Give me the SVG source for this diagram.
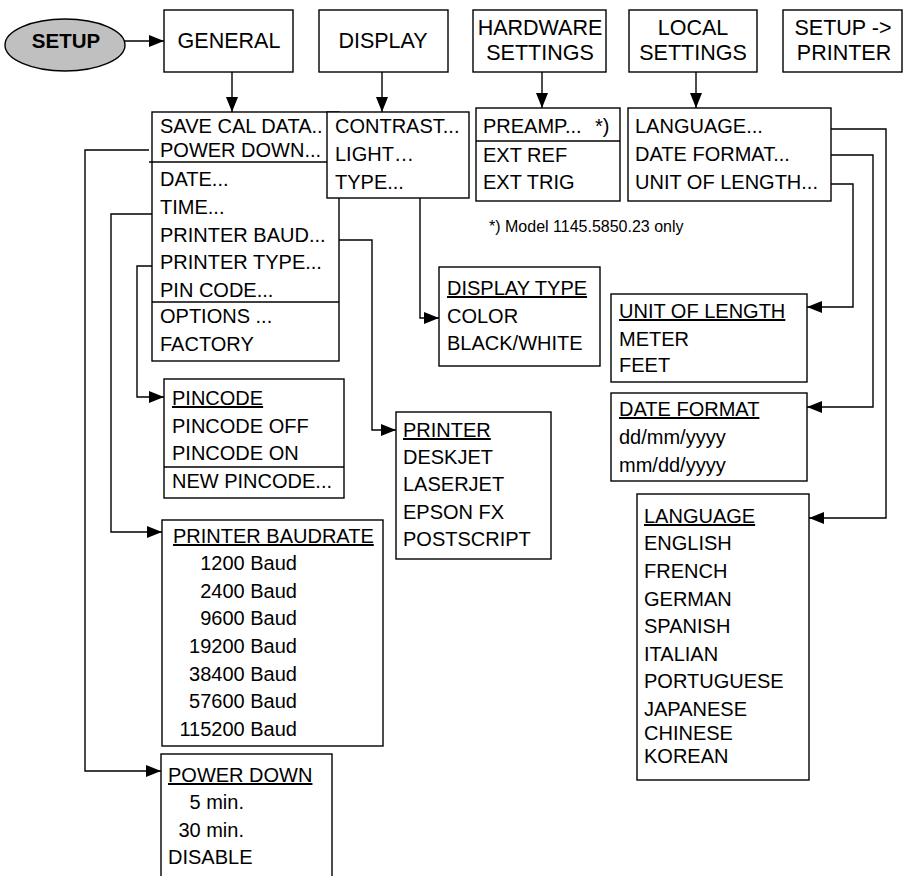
<svg xmlns="http://www.w3.org/2000/svg" width="903" height="876" viewBox="0 0 903 876">
<defs>
<marker id="ah" markerUnits="userSpaceOnUse" markerWidth="16" markerHeight="12" refX="15" refY="6" orient="auto">
<path d="M0,0 L15,6 L0,12 Z" fill="#000"/>
</marker>
<style>
text{font-family:"Liberation Sans",Arial,sans-serif;fill:#000}
.t{font-size:21.5px;text-anchor:middle}
.m{font-size:20px}
.u{text-decoration:underline}
.e{text-anchor:end}
.f{font-size:16px}
rect{fill:#fff;stroke:#000;stroke-width:1.4}
.dv{stroke:#000;stroke-width:1.4;fill:none}
.c path{fill:none;stroke:#000;stroke-width:1.4}
.a{marker-end:url(#ah)}
</style>
</defs>

<g id="connectors" class="c">
<path class="a" d="M125,41 H164"/>
<path class="a" d="M232,72 V112"/>
<path class="a" d="M382,72 V112"/>
<path class="a" d="M542,72 V108"/>
<path class="a" d="M696,72 V108"/>
<path class="a" d="M149,150 H85 V771 H161"/>
<path class="a" d="M152,214 H111 V532 H162"/>
<path class="a" d="M152,266 H137 V397 H164"/>
<path class="a" d="M339,240 H372 V430 H396"/>
<path class="a" d="M420,198 V318 H439"/>
<path class="a" d="M831,129 H886 V518 H809"/>
<path class="a" d="M831,155 H873 V407 H807"/>
<path class="a" d="M831,184 H853 V307 H807"/>
</g>

<g id="setup">
<ellipse cx="65" cy="45" rx="60" ry="26" fill="#c0c0c0" stroke="#000" stroke-width="1.4"/>
<text x="66" y="48" style="font-size:20.5px;font-weight:bold;text-anchor:middle">SETUP</text>
</g>

<g id="general">
<rect x="164" y="10" width="129" height="62"/>
<text class="t" x="229" y="48">GENERAL</text>
</g>
<g id="display">
<rect x="319" y="10" width="129" height="62"/>
<text class="t" x="383" y="48">DISPLAY</text>
</g>
<g id="hardware">
<rect x="473" y="10" width="133" height="62"/>
<text class="t" x="540" y="35">HARDWARE</text>
<text class="t" x="540" y="60">SETTINGS</text>
</g>
<g id="local">
<rect x="629" y="10" width="128" height="62"/>
<text class="t" x="693" y="35">LOCAL</text>
<text class="t" x="693" y="60">SETTINGS</text>
</g>
<g id="setup-printer">
<rect x="783" y="10" width="119" height="62"/>
<text class="t" x="843" y="35">SETUP -&gt;</text>
<text class="t" x="844" y="60">PRINTER</text>
</g>

<g id="general-menu">
<rect x="152" y="112" width="187" height="249"/>
<line class="dv" x1="149" y1="162" x2="327" y2="162"/>
<line class="dv" x1="152" y1="302" x2="339" y2="302"/>
<text class="m" x="160" y="133">SAVE CAL DATA..</text>
<text class="m" x="160" y="157">POWER DOWN...</text>
<text class="m" x="160" y="186">DATE...</text>
<text class="m" x="160" y="214">TIME...</text>
<text class="m" x="160" y="242">PRINTER BAUD...</text>
<text class="m" x="160" y="269">PRINTER TYPE...</text>
<text class="m" x="160" y="297">PIN CODE...</text>
<text class="m" x="160" y="323">OPTIONS ...</text>
<text class="m" x="160" y="351">FACTORY</text>
</g>

<g id="display-menu">
<rect x="327" y="112" width="142" height="86"/>
<text class="m" x="335" y="133">CONTRAST...</text>
<text class="m" x="335" y="161">LIGHT…</text>
<text class="m" x="335" y="189">TYPE...</text>
</g>

<g id="hardware-menu">
<rect x="476" y="108" width="144" height="93"/>
<line class="dv" x1="476" y1="141" x2="620" y2="141"/>
<text class="m" x="483" y="133">PREAMP...</text>
<text class="m" x="595" y="133">*)</text>
<text class="m" x="483" y="162">EXT REF</text>
<text class="m" x="483" y="189">EXT TRIG</text>
</g>

<g id="local-menu">
<rect x="628" y="108" width="203" height="93"/>
<text class="m" x="635" y="133">LANGUAGE...</text>
<text class="m" x="635" y="161">DATE FORMAT...</text>
<text class="m" x="635" y="189">UNIT OF LENGTH...</text>
</g>

<g id="footnote">
<text class="f" x="489" y="232">*) Model 1145.5850.23 only</text>
</g>

<g id="display-type">
<rect x="439" y="267" width="161" height="99"/>
<text class="m u" x="447" y="295">DISPLAY TYPE</text>
<text class="m" x="447" y="323">COLOR</text>
<text class="m" x="447" y="350">BLACK/WHITE</text>
</g>

<g id="unit-of-length">
<rect x="611" y="294" width="196" height="88"/>
<text class="m u" x="619" y="318">UNIT OF LENGTH</text>
<text class="m" x="619" y="346">METER</text>
<text class="m" x="619" y="372">FEET</text>
</g>

<g id="date-format">
<rect x="611" y="393" width="196" height="88"/>
<text class="m u" x="619" y="416">DATE FORMAT</text>
<text class="m" x="619" y="444">dd/mm/yyyy</text>
<text class="m" x="619" y="472">mm/dd/yyyy</text>
</g>

<g id="language">
<rect x="637" y="494" width="172" height="286"/>
<text class="m u" x="644" y="523">LANGUAGE</text>
<text class="m" x="644" y="550">ENGLISH</text>
<text class="m" x="644" y="578">FRENCH</text>
<text class="m" x="644" y="606">GERMAN</text>
<text class="m" x="644" y="633">SPANISH</text>
<text class="m" x="644" y="661">ITALIAN</text>
<text class="m" x="644" y="688">PORTUGUESE</text>
<text class="m" x="644" y="716">JAPANESE</text>
<text class="m" x="644" y="740">CHINESE</text>
<text class="m" x="644" y="763">KOREAN</text>
</g>

<g id="pincode">
<rect x="164" y="379" width="180" height="119"/>
<line class="dv" x1="164" y1="467" x2="344" y2="467"/>
<text class="m u" x="172" y="405">PINCODE</text>
<text class="m" x="172" y="433">PINCODE OFF</text>
<text class="m" x="172" y="460">PINCODE ON</text>
<text class="m" x="172" y="488">NEW PINCODE...</text>
</g>

<g id="printer">
<rect x="396" y="412" width="155" height="147"/>
<text class="m u" x="403" y="437">PRINTER</text>
<text class="m" x="403" y="464">DESKJET</text>
<text class="m" x="403" y="491">LASERJET</text>
<text class="m" x="403" y="519">EPSON FX</text>
<text class="m" x="403" y="546">POSTSCRIPT</text>
</g>

<g id="printer-baudrate">
<rect x="162" y="520" width="221" height="226"/>
<text class="m u" x="173" y="543">PRINTER BAUDRATE</text>
<text class="m e" x="297" y="570">1200 Baud</text>
<text class="m e" x="297" y="598">2400 Baud</text>
<text class="m e" x="297" y="625">9600 Baud</text>
<text class="m e" x="297" y="653">19200 Baud</text>
<text class="m e" x="297" y="681">38400 Baud</text>
<text class="m e" x="297" y="708">57600 Baud</text>
<text class="m e" x="297" y="736">115200 Baud</text>
</g>

<g id="power-down">
<rect x="161" y="754" width="171" height="130"/>
<text class="m u" x="168" y="782">POWER DOWN</text>
<text class="m e" x="244" y="809">5 min.</text>
<text class="m e" x="244" y="837">30 min.</text>
<text class="m" x="168" y="864">DISABLE</text>
</g>
</svg>
